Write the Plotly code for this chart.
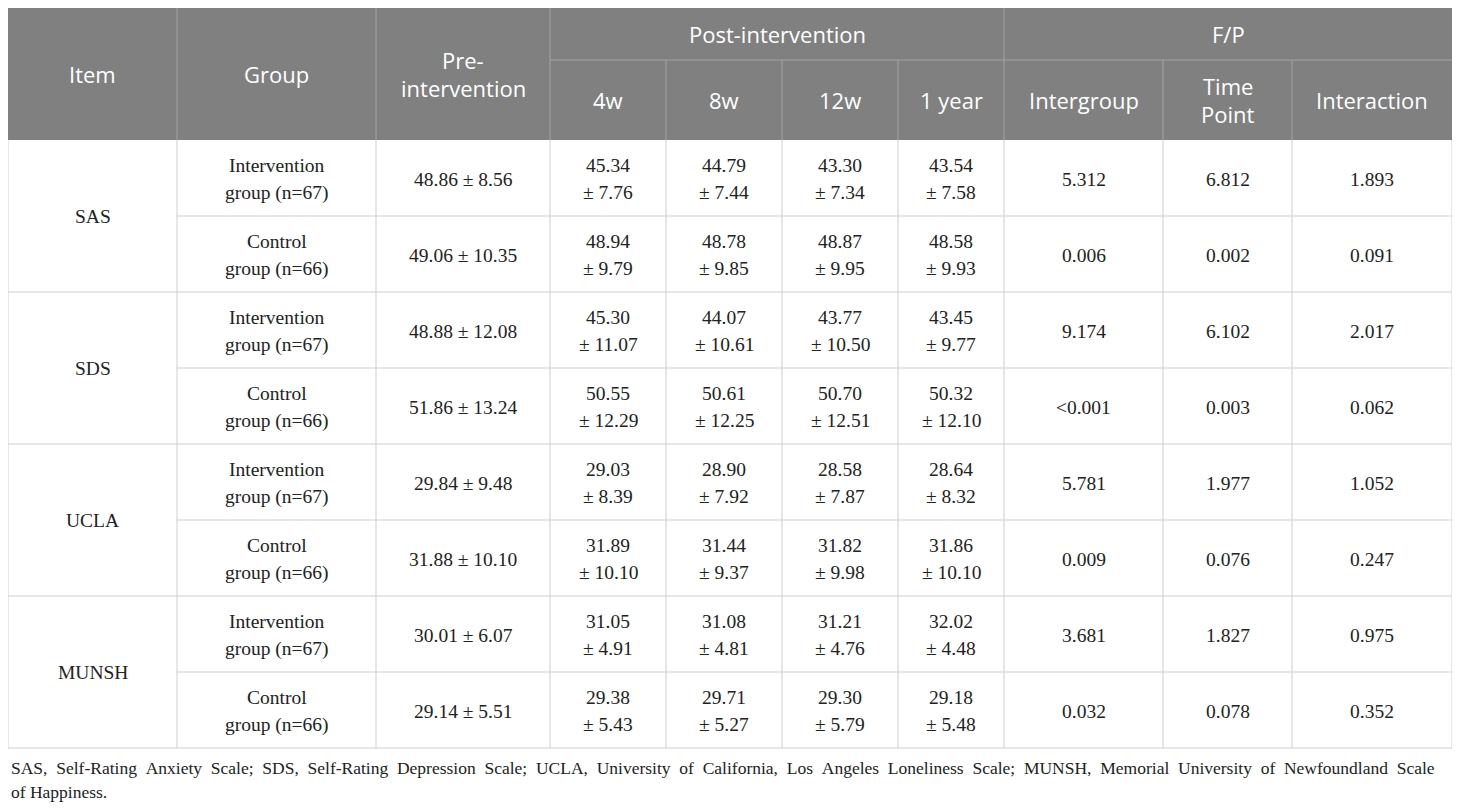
import plotly.graph_objects as go

# Dados da tabela
items = ["SAS", "SDS", "UCLA", "MUNSH"]
groups = [["Intervention", "group (n=67)"], ["Control", "group (n=66)"]]

pre_mean = [48.86, 49.06, 48.88, 51.86, 29.84, 31.88, 30.01, 29.14]
pre_sd = [8.56, 10.35, 12.08, 13.24, 9.48, 10.10, 6.07, 5.51]

# pós-intervenção: 4w, 8w, 12w, 1 year
post_mean = [
    [45.34, 44.79, 43.30, 43.54],
    [48.94, 48.78, 48.87, 48.58],
    [45.30, 44.07, 43.77, 43.45],
    [50.55, 50.61, 50.70, 50.32],
    [29.03, 28.90, 28.58, 28.64],
    [31.89, 31.44, 31.82, 31.86],
    [31.05, 31.08, 31.21, 32.02],
    [29.38, 29.71, 29.30, 29.18],
]
post_sd = [
    [7.76, 7.44, 7.34, 7.58],
    [9.79, 9.85, 9.95, 9.93],
    [11.07, 10.61, 10.50, 9.77],
    [12.29, 12.25, 12.51, 12.10],
    [8.39, 7.92, 7.87, 8.32],
    [10.10, 9.37, 9.98, 10.10],
    [4.91, 4.81, 4.76, 4.48],
    [5.43, 5.27, 5.79, 5.48],
]

# F/P: Intergroup, Time Point, Interaction
fp = [
    ["5.312", "6.812", "1.893"],
    ["0.006", "0.002", "0.091"],
    ["9.174", "6.102", "2.017"],
    ["<0.001", "0.003", "0.062"],
    ["5.781", "1.977", "1.052"],
    ["0.009", "0.076", "0.247"],
    ["3.681", "1.827", "0.975"],
    ["0.032", "0.078", "0.352"],
]

time_labels = ["4w", "8w", "12w", "1 year"]
fp_labels = [["Intergroup"], ["Time", "Point"], ["Interaction"]]

footnote = ["SAS, Self-Rating Anxiety Scale; SDS, Self-Rating Depression Scale; "
            "UCLA, University of California, Los Angeles Loneliness Scale; MUNSH, "
            "Memorial University of Newfoundland Scale",
            "of Happiness."]

# Geometria (pixels da página; o body do html tem margem de 8px)
PAD = 8
W, H = 1460, 810
col_x = [8, 177, 376, 550, 666, 782, 898, 1004, 1163, 1292, 1452]
y_top, y_mid, y_head = 8, 60, 140
row_h = 76
n_rows = len(pre_mean)
row_y = [y_head + i * row_h for i in range(n_rows + 1)]

HEAD_BG = "#7f807f"
HEAD_LINE = "#a3a4a3"
BODY_LINE = "#cfcfcf"
SANS = "Open Sans"
SERIF = "Liberation Serif"
HS, BS = 22, 19.5
TXT = "#222"

fig = go.Figure()
shapes = []
annots = []


def cx(i, j=None):
    j = i + 1 if j is None else j
    return (col_x[i] + col_x[j]) / 2


def txt(x, y, lines, font, size, color, gap):
    n = len(lines)
    for k, s in enumerate(lines):
        yy = y + (k - (n - 1) / 2) * gap
        annots.append(dict(x=x, y=yy, text=s, showarrow=False, xanchor="center",
                           yanchor="middle", xref="x", yref="y",
                           font=dict(family=font, size=size, color=color)))


def line(x0, y0, x1, y1, color):
    shapes.append(dict(type="line", x0=x0, y0=y0, x1=x1, y1=y1, xref="x", yref="y",
                       line=dict(color=color, width=1)))


# Cabeçalho
shapes.append(dict(type="rect", x0=col_x[0], x1=col_x[-1], y0=y_top, y1=y_head,
                   xref="x", yref="y", fillcolor=HEAD_BG, line_width=0, layer="below"))
for i in [1, 2, 3, 7]:
    line(col_x[i], y_top, col_x[i], y_head, HEAD_LINE)
for i in [4, 5, 6, 8, 9]:
    line(col_x[i], y_mid, col_x[i], y_head, HEAD_LINE)
line(col_x[3], y_mid, col_x[-1], y_mid, HEAD_LINE)

hc = (y_top + y_head) / 2
txt(cx(0), hc, ["Item"], SANS, HS, "white", 28)
txt(cx(1), hc, ["Group"], SANS, HS, "white", 28)
txt(cx(2), hc, ["Pre-", "intervention"], SANS, HS, "white", 28)
txt(cx(3, 7), (y_top + y_mid) / 2, ["Post-intervention"], SANS, HS, "white", 28)
txt(cx(7, 10), (y_top + y_mid) / 2, ["F/P"], SANS, HS, "white", 28)
for k, lab in enumerate(time_labels):
    txt(cx(3 + k), (y_mid + y_head) / 2, [lab], SANS, HS, "white", 28)
for k, lab in enumerate(fp_labels):
    txt(cx(7 + k), (y_mid + y_head) / 2, lab, SANS, HS, "white", 28)

# Corpo
for i in range(1, n_rows + 1):
    x0 = col_x[0] if i % 2 == 0 else col_x[1]
    line(x0, row_y[i], col_x[-1], row_y[i], BODY_LINE)
for c in col_x:
    line(c, y_head, c, row_y[-1], BODY_LINE)

for k, it in enumerate(items):
    txt(cx(0), (row_y[2 * k] + row_y[2 * k + 2]) / 2, [it], SERIF, BS, TXT, 26)

for r in range(n_rows):
    yc = (row_y[r] + row_y[r + 1]) / 2 + 1
    txt(cx(1), yc, groups[r % 2], SERIF, BS, TXT, 27)
    txt(cx(2), yc, [f"{pre_mean[r]:.2f} ± {pre_sd[r]:.2f}"], SERIF, BS, TXT, 27)
    for k in range(4):
        txt(cx(3 + k), yc, [f"{post_mean[r][k]:.2f}", f"± {post_sd[r][k]:.2f}"],
            SERIF, BS, TXT, 27)
    for k in range(3):
        txt(cx(7 + k), yc, [fp[r][k]], SERIF, BS, TXT, 27)

# Nota de rodapé (primeira linha justificada com espaços extra)
foot_lines = [footnote[0].replace(" ", " \u00a0"), footnote[1]]
for k, s in enumerate(foot_lines):
    annots.append(dict(x=col_x[0] + 1, y=row_y[-1] + 20 + 24 * k, text=s, showarrow=False,
                       xanchor="left", yanchor="middle", align="left", xref="x", yref="y",
                       font=dict(family=SERIF, size=17.5, color=TXT)))

fig.update_layout(
    width=W - 2 * PAD, height=H - 2 * PAD,
    margin=dict(l=0, r=0, t=0, b=0),
    paper_bgcolor="white", plot_bgcolor="white",
    xaxis=dict(range=[PAD, W - PAD], visible=False, fixedrange=True),
    yaxis=dict(range=[H - PAD, PAD], visible=False, fixedrange=True),
    shapes=shapes, annotations=annots, showlegend=False,
)

fig.write_html("out.html")
